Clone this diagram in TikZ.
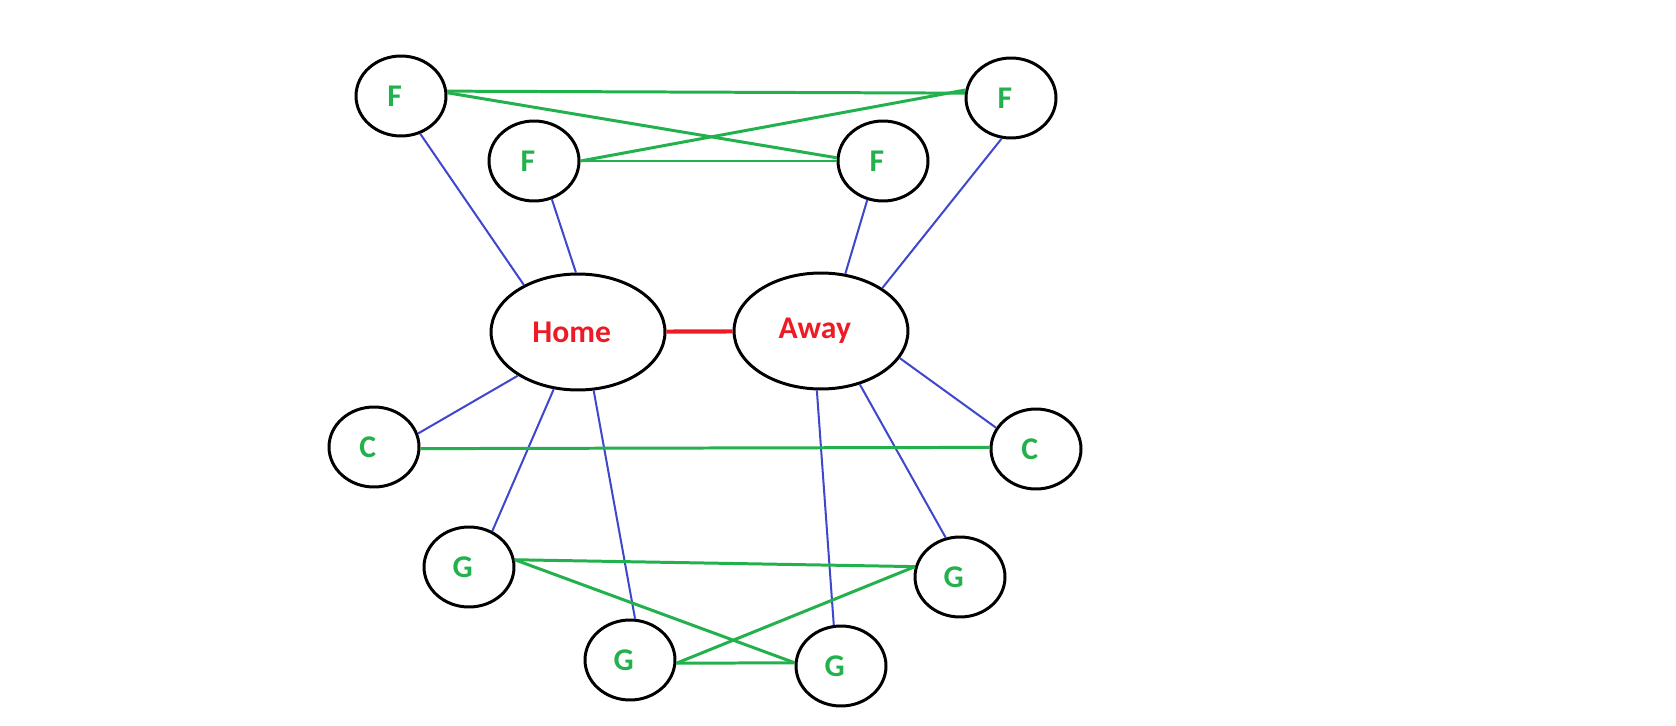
\documentclass[tikz,border=0pt]{standalone}
\usepackage{fontspec}
\setmainfont{Carlito}
\usetikzlibrary{shapes.geometric}
\definecolor{paintgreen}{RGB}{34,177,76}
\definecolor{paintred}{RGB}{237,28,36}
\definecolor{paintblue}{RGB}{63,72,204}

\begin{document}
\begin{tikzpicture}[
  x=0.02cm, y=-0.02cm,
  team/.style={
    ellipse, draw=black, line width=1.7pt, inner sep=0pt,
    minimum width=3.48cm, minimum height=2.32cm,
    text=paintred, font=\fontsize{18}{21}\selectfont\bfseries,
    execute at end node={\hspace{0.25cm}}
  },
  player/.style={
    ellipse, draw=black, line width=1.7pt, inner sep=0pt,
    minimum width=1.8cm, minimum height=1.6cm,
    text=paintgreen, font=\fontsize{18}{21}\selectfont\bfseries,
    execute at end node={\hspace{0.25cm}}
  },
  blue link/.style={draw=paintblue, line width=1.15pt},
  green link/.style={draw=paintgreen, line width=1.7pt},
  red link/.style={draw=paintred, line width=2.4pt}
]
\useasboundingbox (0,0) rectangle (1676,726);
\node[team] (home) at (578,332) {Home};
\node[team] (away) at (821,331) {Away};
\node[player] (f1) at (401,96) {F};
\node[player] (f2) at (534,161) {F};
\node[player] (f3) at (883,161) {F};
\node[player] (f4) at (1011,98) {F};
\node[player] (c1) at (374,447) {C};
\node[player] (c2) at (1036,449) {C};
\node[player] (g1) at (469,567) {G};
\node[player] (g2) at (960,577) {G};
\node[player] (g3) at (630,660) {G};
\node[player] (g4) at (841,666) {G};
\draw[red link] (home) -- (away);
\draw[blue link] (f1.-63) -- (home.139);
\draw[blue link] (f2.-65) -- (home.92);
\draw[blue link] (f3.-112) -- (away.67);
\draw[blue link] (f4.-103) -- (away.35);
\draw[blue link] (home.-144) -- (c1.17);
\draw[blue link] (home.-113) -- (g1.57);
\draw[blue link] (home.-75) -- (g3.83);
\draw[blue link] (away.-94) -- (g4.100);
\draw[blue link] (away.-54) -- (g2.110);
\draw[blue link] (away.-19) -- (c2.152);
\draw[green link] (f1.6) -- (f4.174);
\draw[green link] (f1.4) -- (f3.176);
\draw[green link] (f2.0) -- (f4.170);
\draw[green link] (f2.0) -- (f3.180);
\draw[green link] (c1.-2) -- (c2.178);
\draw[green link] (g1.9) -- (g2.167);
\draw[green link] (g1.9) -- (g4.176);
\draw[green link] (g3.-4) -- (g4.176);
\draw[green link] (g3.-4) -- (g2.167);
\end{tikzpicture}
\end{document}
